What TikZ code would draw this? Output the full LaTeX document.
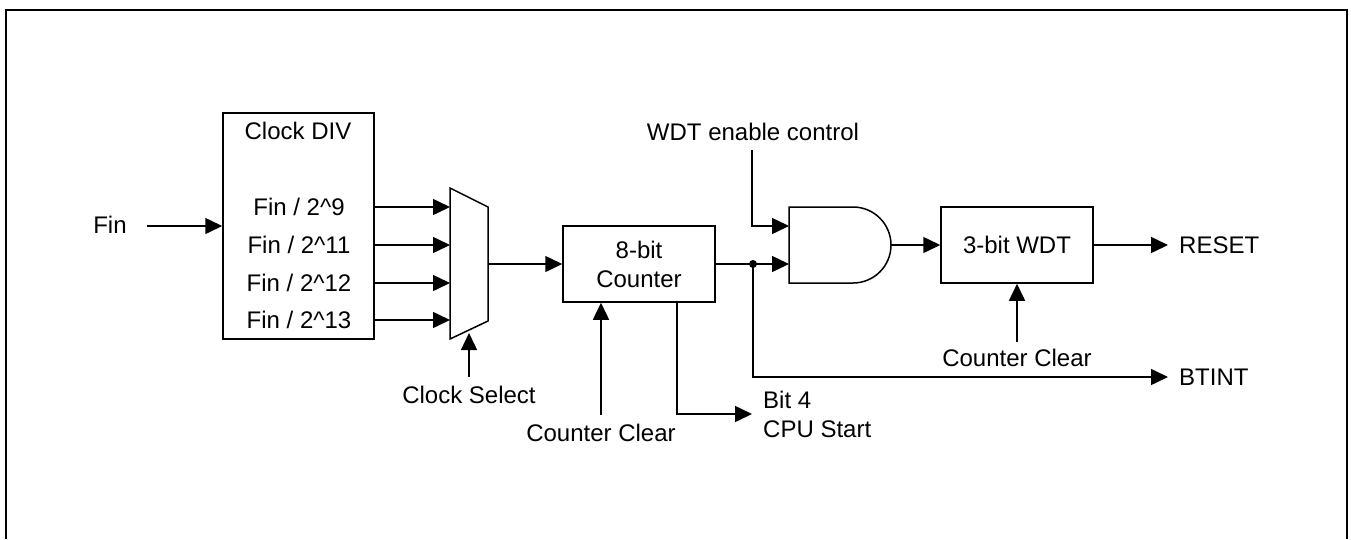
\documentclass[tikz,border=0pt]{standalone}
\usepackage{fontspec}
\setmainfont{Liberation Sans}
\usetikzlibrary{arrows.meta}
\begin{document}
\begin{tikzpicture}[x=1pt,y=-1pt,
  every node/.style={font=\fontsize{24}{29}\selectfont, inner sep=0pt},
  wire/.style={line width=1.5pt},
  arr/.style={wire,-{Triangle[length=17pt,width=16pt]}},
  blk/.style={draw,line width=1.5pt,rectangle,inner sep=0pt,align=center}]
\useasboundingbox (0,0) rectangle (1351,539);
% frame
\draw[line width=2pt] (6,539) -- (6,10) -- (1347,10) -- (1347,539);
% clock divider
\node[blk, minimum width=151pt, minimum height=226pt] (div) at (298.5,226) {};
\node (divt) at (298,131) {Clock DIV};
\node (f1) at (299,207) {Fin / 2\textasciicircum 9};
\node (f2) at (299,245) {Fin / 2\textasciicircum 11};
\node (f3) at (299,283) {Fin / 2\textasciicircum 12};
\node (f4) at (299,320) {Fin / 2\textasciicircum 13};
\node (fin) at (110,225) {Fin};
\coordinate (finin) at (147,226);
\draw[arr] (finin) -- (div.west);
% mux
\coordinate (mtl) at (450,188);
\coordinate (mtr) at (488,207);
\coordinate (mbr) at (488,321);
\coordinate (mbl) at (450,339);
\draw[wire, line join=miter] (mtl) -- (mtr) -- (mbr) -- (mbl) -- cycle;
\foreach \f in {f1,f2,f3,f4} \draw[arr] (div.east |- \f) -- (mtl |- \f);
\node (cs) at (469,395) {Clock Select};
\coordinate (cstop) at (469,377);
\coordinate (csend) at (469,333);
\draw[arr] (cstop) -- (csend);
% counter
\node[blk, minimum width=152pt, minimum height=76pt] (cnt) at (639,264) {8-bit\\Counter};
\coordinate (mout) at (488,264);
\draw[arr] (mout) -- (cnt.west);
\node (cc1) at (601,433) {Counter Clear};
\coordinate (cc1t) at (601,415);
\draw[arr] (cc1t) -- (cc1t |- cnt.south);
\coordinate (b4) at (677,302);
\coordinate (b4end) at (752,414);
\draw[arr] (b4) |- (b4end);
\node[anchor=west, align=left] (bit4) at (763,414) {Bit 4\\CPU Start};
% AND gate
\draw[wire] (789,207) -- (853,207) arc[start angle=90, end angle=-90, radius=38pt] -- (789,283) -- cycle;
\coordinate (g1) at (789,226);
\coordinate (g2) at (789,264);
\coordinate (gout) at (891,245);
\coordinate (dot) at (753,264);
\draw[arr] (cnt.east) -- (g2);
\fill (dot) circle[radius=4pt];
\node (en) at (753,132) {WDT enable control};
\coordinate (ent) at (752,150);
\draw[arr] (ent) |- (g1);
% WDT
\node[blk, minimum width=152pt, minimum height=76pt] (wdt) at (1017,245) {3-bit WDT};
\draw[arr] (gout) -- (wdt.west);
\coordinate (resetin) at (1168,245);
\draw[arr] (wdt.east) -- (resetin);
\node[anchor=west] (reset) at (1179,245) {RESET};
\node (cc2) at (1017,358) {Counter Clear};
\coordinate (cc2t) at (1017,342);
\draw[arr] (cc2t) -- (wdt.south);
% BTINT
\coordinate (btin) at (1168,377);
\draw[arr] (dot) |- (btin);
\node[anchor=west] (btint) at (1179,377) {BTINT};
\end{tikzpicture}
\end{document}
